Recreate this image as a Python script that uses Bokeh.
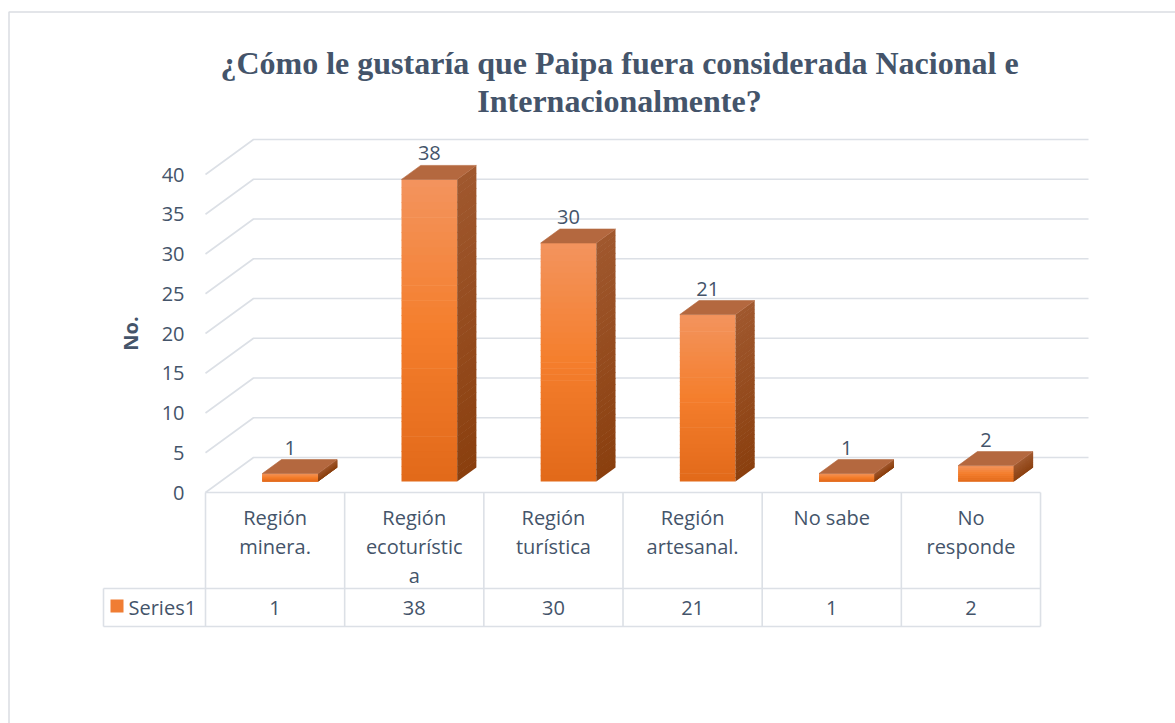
import numpy as np
from bokeh.plotting import figure
from bokeh.models import Range1d, LinearAxis, FixedTicker
from bokeh.core.properties import value
from bokeh.embed import file_html
from bokeh.resources import INLINE

# ---------------- data ----------------
title_lines = ["¿Cómo le gustaría que Paipa fuera considerada Nacional e",
               "Internacionalmente?"]
categories = ["Región minera.", "Región ecoturística", "Región turística",
              "Región artesanal.", "No sabe", "No responde"]
category_lines = [["Región", "minera."], ["Región", "ecoturístic", "a"],
                  ["Región", "turística"], ["Región", "artesanal."],
                  ["No sabe"], ["No", "responde"]]
counts = [1, 38, 30, 21, 1, 2]
series_name = "Series1"
y_ticks = [0, 5, 10, 15, 20, 25, 30, 35, 40]
y_axis_title = "No."

# ---------------- layout constants ----------------
W, H = 1175, 723
PX_X = 139.17     # pixels per category
PX_Y = 7.95       # pixels per count
ORIGIN_X = 205    # canvas px of front-left corner
ORIGIN_Y = 492    # canvas px (from top) of value 0 on front plane


def px(d):
    return d / PX_X


def py(d):
    return d / PX_Y


x_start, x_end = -ORIGIN_X / PX_X, (W - ORIGIN_X) / PX_X
y_start, y_end = -(H - ORIGIN_Y) / PX_Y, ORIGIN_Y / PX_Y

BACK_DX, BACK_DY = px(48), py(35)
BAR_F0, BAR_F1 = 0.314, 0.714
BAR_W = 0.40
N = len(categories)

TEXT = "#44546A"
GRID = "#DCE0E6"
FONT = value("Open Sans")
FS = "20px"

p = figure(width=W, height=H, x_range=Range1d(x_start, x_end),
           y_range=Range1d(y_start, y_end), output_backend="svg",
           toolbar_location=None, min_border=0, x_axis_location=None,
           y_axis_location=None, outline_line_color=None)
p.grid.visible = False
p.background_fill_color = "white"
p.border_fill_color = "white"

# outer chart border (top and left visible)
xb = x_start + px(8.5)
yb = y_end - py(11.5)
p.line([xb, xb, x_end + 1], [y_start - 1, yb, yb], line_color="#DADDE2", line_width=1.5)

# back wall grid + side diagonals
gx = [[0, BACK_DX, N + BACK_DX] for v in y_ticks]
gy = [[v, v + BACK_DY, v + BACK_DY] for v in y_ticks]
p.multi_line(gx, gy, line_color=GRID, line_width=1.6)


def lerp_color(stops, t):
    for k in range(len(stops) - 1):
        t0, c0 = stops[k]
        t1, c1 = stops[k + 1]
        if t <= t1:
            f = (t - t0) / (t1 - t0) if t1 > t0 else 0
            c = [int(round(c0[j] + (c1[j] - c0[j]) * f)) for j in range(3)]
            return "#%02x%02x%02x" % tuple(c)
    return "#%02x%02x%02x" % tuple(stops[-1][1])


front_stops = [(0.0, (243, 148, 94)), (0.5, (244, 126, 44)), (1.0, (226, 105, 26))]
side_stops = [(0.0, (160, 88, 46)), (1.0, (138, 63, 14))]
TOP_COLOR = "#B4683F"

ddx = (BAR_F1 - BAR_F0) * BACK_DX
ddy = (BAR_F1 - BAR_F0) * BACK_DY
NS = 40
OV = py(0.6)

fl, fr, ft, fb, fc = [], [], [], [], []
sxs, sys_, sc = [], [], []
txs, tys = [], []
lab_x, lab_y, lab_t = [], [], []
for i, v in enumerate(counts):
    cx = i + 0.5 + BAR_F0 * BACK_DX
    y0 = BAR_F0 * BACK_DY
    x0, x1 = cx - BAR_W / 2, cx + BAR_W / 2
    top = y0 + v
    for k in range(NS):
        hi = top - v * k / NS
        lo = max(top - v * (k + 1) / NS - OV, y0)
        t = (k + 0.5) / NS
        fl.append(x0); fr.append(x1); ft.append(hi); fb.append(lo)
        fc.append(lerp_color(front_stops, t))
        sxs.append([x1, x1 + ddx, x1 + ddx, x1])
        sys_.append([lo, lo + ddy, hi + ddy, hi])
        sc.append(lerp_color(side_stops, t))
    txs.append([x0, x1, x1 + ddx, x0 + ddx])
    tys.append([top, top, top + ddy, top + ddy])
    lab_x.append(cx)
    lab_y.append(top + ddy + py(12))
    lab_t.append(str(v))

p.quad(left=fl, right=fr, top=ft, bottom=fb, fill_color=fc, line_color=None)
p.patches(sxs, sys_, fill_color=sc, line_color=None)
p.patches(txs, tys, fill_color=TOP_COLOR, line_color=TOP_COLOR, line_width=0.6)

p.text(lab_x, lab_y, text=lab_t, text_font=FONT, text_font_size=FS,
       text_color=TEXT, text_align="center", text_baseline="middle")

# y axis (front plane)
yaxis = LinearAxis(fixed_location=0, ticker=FixedTicker(ticks=y_ticks),
                   axis_line_color=None, major_tick_line_color=None,
                   minor_tick_line_color=None, major_tick_in=0, major_tick_out=0,
                   major_label_standoff=21, major_label_text_font="Open Sans",
                   major_label_text_font_size=FS, major_label_text_color=TEXT,
                   axis_label=y_axis_title, axis_label_text_font="Open Sans",
                   axis_label_text_font_style="bold", axis_label_text_font_size="20px",
                   axis_label_text_color=TEXT, axis_label_standoff=15, bounds=(0, 40))
p.add_layout(yaxis, "left")

# data table
XL = px(103 - 205)
ROW1 = py(-96)
ROW2 = py(-134)
lx = [[0, N]] + [[j, j] for j in range(N + 1)] + [[XL, N], [XL, N], [XL, XL]]
ly = [[0, 0]] + [[0, ROW2] for j in range(N + 1)] + [[ROW1, ROW1], [ROW2, ROW2], [ROW1, ROW2]]
p.multi_line(lx, ly, line_color=GRID, line_width=1.6)

cat_x, cat_y, cat_t = [], [], []
for i, lines in enumerate(category_lines):
    for j, s in enumerate(lines):
        cat_x.append(i + 0.5)
        cat_y.append(py(-25) - j * py(29))
        cat_t.append(s)
p.text(cat_x, cat_y, text=cat_t, text_font=FONT, text_font_size=FS,
       text_color=TEXT, text_align="center", text_baseline="middle")

p.text([i + 0.5 for i in range(N)], [py(-115)] * N, text=[str(v) for v in counts],
       text_font=FONT, text_font_size=FS, text_color=TEXT,
       text_align="center", text_baseline="middle")

# legend key
p.quad(left=[px(110 - 205)], right=[px(123 - 205)], top=[py(-107)], bottom=[py(-120)],
       fill_color="#F07D33", line_color=None)
p.text([px(128 - 205)], [py(-115)], text=[series_name], text_font=FONT,
       text_font_size=FS, text_color=TEXT, text_align="left", text_baseline="middle")

# title
p.text([px(619 - 205)] * 2, [py(492 - 62), py(492 - 100)], text=title_lines,
       text_font=value("Liberation Serif"), text_font_style="bold",
       text_font_size="32px", text_color=TEXT, text_align="center",
       text_baseline="middle")

open("out.html", "w").write(file_html(p, INLINE))
